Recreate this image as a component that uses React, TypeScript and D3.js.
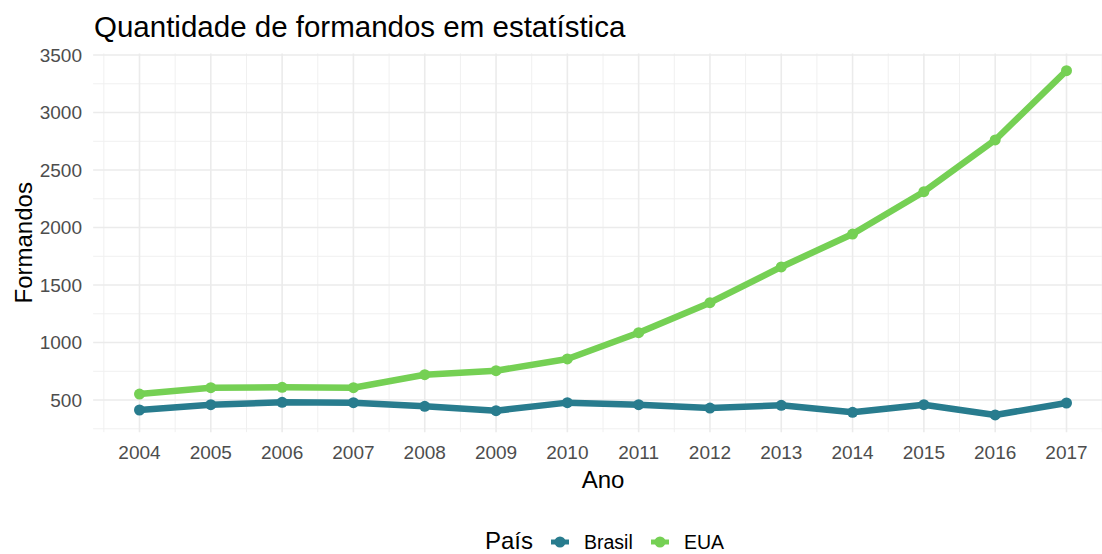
import React from 'react';
import * as d3 from 'd3';

// dados
const years = [2004, 2005, 2006, 2007, 2008, 2009, 2010, 2011, 2012, 2013, 2014, 2015, 2016, 2017];
const brasil = [413, 459, 480, 477, 445, 407, 477, 459, 430, 454, 393, 459, 370, 474];
const eua = [552, 607, 610, 607, 720, 755, 857, 1085, 1346, 1657, 1943, 2311, 2761, 3364];
const yTicks = [500, 1000, 1500, 2000, 2500, 3000, 3500];
const seriesNames = ['Brasil', 'EUA'];
const seriesColors = ['#287C8E', '#75D054'];

const W = 1102;
const H = 554;
const font = '"Liberation Sans", Arial, sans-serif';

export default function App() {
  const x = d3.scaleLinear().domain([2004, 2017]).range([139.5, 1066.5]);
  const xLo = 2003.35, xHi = 2017.65;
  const y = d3.scaleLinear().domain([500, 3500]).range([400, 55]);
  const yLo = 220, yHi = 3514;
  const left = x(xLo), right = x(xHi), top = y(yHi), bottom = y(yLo);

  const xMinor = d3.range(2003.5, 2018, 1);
  const yMinor = d3.range(250, 3500, 500);

  const line = d3.line<number>().x((d, i) => x(years[i])).y(d => y(d));
  const allSeries = [brasil, eua];

  return (
    <svg width={W} height={H} style={{ position: 'absolute', left: 0, top: 0, background: '#fff' }} fontFamily={font}>
      <g>
        {yMinor.map(v => <line key={'ym' + v} x1={left} x2={right} y1={y(v)} y2={y(v)} stroke="#F0F0F0" strokeWidth={1} />)}
        {xMinor.map(v => <line key={'xm' + v} x1={x(v)} x2={x(v)} y1={top} y2={bottom} stroke="#F0F0F0" strokeWidth={1} />)}
        {yTicks.map(v => <line key={'y' + v} x1={left} x2={right} y1={y(v)} y2={y(v)} stroke="#EBEBEB" strokeWidth={1.6} />)}
        {years.map(v => <line key={'x' + v} x1={x(v)} x2={x(v)} y1={top} y2={bottom} stroke="#EBEBEB" strokeWidth={1.6} />)}
      </g>
      {allSeries.map((s, k) => (
        <g key={k}>
          <path d={line(s) || ''} fill="none" stroke={seriesColors[k]} strokeWidth={6.5} strokeLinejoin="round" />
          {s.map((v, i) => <circle key={i} cx={x(years[i])} cy={y(v)} r={5.5} fill={seriesColors[k]} />)}
        </g>
      ))}
      {yTicks.map(v => (
        <text key={'yl' + v} x={82} y={y(v)} dy="0.36em" textAnchor="end" fontSize={19} fill="#4D4D4D">{v}</text>
      ))}
      {years.map(v => (
        <text key={'xl' + v} x={x(v)} y={459} textAnchor="middle" fontSize={19} fill="#4D4D4D">{v}</text>
      ))}
      <text x={94} y={37} fontSize={29.5} fill="#000">Quantidade de formandos em estatística</text>
      <text x={603} y={488} textAnchor="middle" fontSize={24} fill="#000">Ano</text>
      <text transform={`translate(32,${(top + bottom) / 2}) rotate(-90)`} textAnchor="middle" fontSize={24} fill="#000">Formandos</text>
      <g>
        <text x={485} y={549} fontSize={24} fill="#000">País</text>
        {seriesNames.map((n, k) => {
          const kx = k === 0 ? 560 : 660;
          return (
            <g key={n}>
              <line x1={kx - 9} x2={kx + 9} y1={542} y2={542} stroke={seriesColors[k]} strokeWidth={5} />
              <circle cx={kx} cy={542} r={5.5} fill={seriesColors[k]} />
              <text x={kx + 24} y={548.5} fontSize={19.5} fill="#000">{n}</text>
            </g>
          );
        })}
      </g>
    </svg>
  );
}
